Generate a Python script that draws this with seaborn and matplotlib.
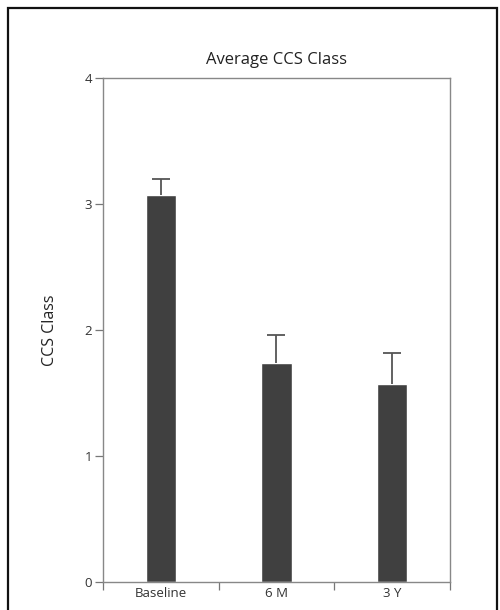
import numpy as np
import matplotlib
matplotlib.use("Agg")
import matplotlib.pyplot as plt
import seaborn as sns
from matplotlib.patches import Rectangle
from matplotlib.ticker import FixedLocator

# データ
categories = ["Baseline", "6 M", "3 Y"]
mean_values = [3.07, 1.74, 1.57]
err_upper = [0.13, 0.22, 0.25]

sns.set_style("white")
plt.rcParams['font.family'] = ['Open Sans', 'DejaVu Sans']

fig = plt.figure(figsize=(5.0, 6.1), dpi=100)
ax = fig.add_axes([0.206, 0.046, 0.694, 0.826])

sns.barplot(x=categories, y=mean_values, color="#404040", width=0.26,
            saturation=1, ax=ax, errorbar=None)

pos = np.arange(len(categories))
_, caps, _ = ax.errorbar(pos, mean_values, yerr=[np.zeros(len(err_upper)), err_upper],
                         fmt="none", ecolor="#555555", elinewidth=1.3, capsize=6.5,
                         capthick=1.3, zorder=1)
# 下側のキャップは不要
caps[0].set_visible(False)

ax.set_xlim(-0.5, len(categories) - 0.5)
ax.set_ylim(0, 4)
ax.set_yticks([0, 1, 2, 3, 4])
ax.set_xticks(pos)
ax.set_xticklabels(categories)
ax.xaxis.set_minor_locator(FixedLocator(np.arange(-0.5, len(categories), 1.0)))
ax.tick_params(axis="x", which="major", length=0, pad=4, labelsize=9.5, labelcolor="#333333")
ax.tick_params(axis="x", which="minor", length=6, width=0.9, color="#777777", direction="out", bottom=True)
ax.tick_params(axis="y", which="major", length=6, width=0.9, color="#777777", left=True,
               labelsize=9.5, labelcolor="#333333", pad=2)

for s in ax.spines.values():
    s.set_color("#888888")
    s.set_linewidth(1.0)

ax.set_title("Average CCS Class", fontsize=12, color="#222222", pad=10)
ax.set_ylabel("CCS Class", fontsize=11.5, color="#222222", labelpad=19)
ax.set_xlabel("")

# 外枠
fig.patches.append(Rectangle((0.016, -0.01), 0.978, 0.997, transform=fig.transFigure,
                             fill=False, edgecolor="#111111", linewidth=1.6))

fig.savefig("out.png", dpi=100)
